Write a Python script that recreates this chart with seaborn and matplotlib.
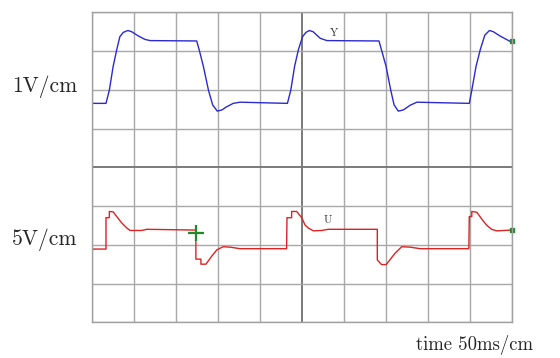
import matplotlib
matplotlib.use("Agg")
import matplotlib.pyplot as plt
import seaborn as sns
import pandas as pd

# ---- data (time in divisions, value in divisions) ----
y_t = [0, 0.34, 0.42, 0.51, 0.595, 0.67, 0.75, 0.86, 0.95, 1.11, 1.27, 1.39, 2.50,
       2.56, 2.66, 2.78, 2.88, 2.99, 3.10, 3.21, 3.37, 3.53, 4.66,
       4.74, 4.83, 4.92, 5.02, 5.10, 5.18, 5.27, 5.44, 5.60, 6.84,
       6.90, 7.01, 7.12, 7.20, 7.30, 7.42, 7.58, 7.74, 8.99,
       9.05, 9.15, 9.25, 9.36, 9.47, 9.56, 9.72, 9.96, 10.0]
y_v = [5.65, 5.65, 5.99, 6.60, 7.03, 7.37, 7.48, 7.53, 7.50, 7.39, 7.30, 7.27, 7.26,
       7.03, 6.60, 5.99, 5.61, 5.45, 5.48, 5.56, 5.65, 5.68, 5.65,
       5.99, 6.60, 7.03, 7.37, 7.48, 7.53, 7.50, 7.33, 7.27, 7.26,
       7.03, 6.60, 5.99, 5.61, 5.45, 5.48, 5.60, 5.68, 5.65,
       5.99, 6.60, 7.03, 7.41, 7.53, 7.50, 7.39, 7.25, 7.25]

u_t = [0, 0.34, 0.34, 0.42, 0.42, 0.51, 0.595, 0.71, 0.83, 0.91, 1.19, 1.31, 2.48,
       2.48, 2.60, 2.60, 2.72, 2.78, 2.86, 2.98, 3.13, 3.29, 3.53, 4.64,
       4.65, 4.76, 4.76, 4.88, 5.00, 5.08, 5.16, 5.28, 5.48, 5.63, 6.80,
       6.80, 6.90, 7.01, 7.10, 7.22, 7.38, 7.58, 7.82, 8.98,
       8.99, 9.05, 9.05, 9.17, 9.29, 9.40, 9.52, 9.64, 10.0]
u_v = [1.89, 1.89, 2.70, 2.70, 2.86, 2.85, 2.73, 2.57, 2.44, 2.37, 2.37, 2.40, 2.38,
       1.63, 1.63, 1.50, 1.50, 1.59, 1.71, 1.87, 1.95, 1.94, 1.90, 1.90,
       2.70, 2.70, 2.86, 2.86, 2.70, 2.51, 2.43, 2.36, 2.37, 2.40, 2.40,
       1.61, 1.49, 1.49, 1.61, 1.78, 1.95, 1.94, 1.90, 1.90,
       2.73, 2.73, 2.86, 2.84, 2.66, 2.51, 2.40, 2.36, 2.38]

trace_labels = ["Y", "U"]
label_pos_t = [5.78, 5.63]
label_pos_v = [7.46, 2.64]
cursor_t, cursor_v = 2.48, 2.31
scale_labels = ["1V/cm", "5V/cm"]
time_label = "time 50ms/cm"

sns.set_style("white")
plt.rcParams["font.family"] = ["cmr10", "DejaVu Serif"]

fig = plt.figure(figsize=(5.6, 3.58), dpi=100)
ax = fig.add_axes([91.7 / 560, 1 - 322.3 / 358, 420 / 560, 310 / 358])

# grid
for i in range(11):
    ax.axvline(i, color="#7a7a7a" if i == 5 else "#a8a8a8", lw=1.4 if i == 5 else 1.0, zorder=0)
for j in range(9):
    ax.axhline(j, color="#7a7a7a" if j == 4 else "#a8a8a8", lw=1.4 if j == 4 else 1.0, zorder=0)

dy = pd.DataFrame({"t": y_t, "v": y_v})
du = pd.DataFrame({"t": u_t, "v": u_v})
sns.lineplot(data=dy, x="t", y="v", ax=ax, color="#2a2ad0", lw=1.0, sort=False, estimator=None)
sns.lineplot(data=du, x="t", y="v", ax=ax, color="#dd2222", lw=1.0, sort=False, estimator=None)

# end markers
ax.plot([y_t[-1]], [y_v[-1]], marker="s", ms=2.5, color="#1f8a2a", clip_on=False)
ax.plot([u_t[-1]], [u_v[-1]], marker="s", ms=2.5, color="#1f8a2a", clip_on=False)
# cursor
ax.plot([cursor_t], [cursor_v], marker="+", ms=12, mew=1.6, color="#1f8a2a")

for lab, tt, vv in zip(trace_labels, label_pos_t, label_pos_v):
    ax.text(tt, vv, lab, fontsize=8, ha="center", va="center", color="#333333")

ax.set_xlim(0, 10)
ax.set_ylim(0, 8)
ax.set_xticks([])
ax.set_yticks([])
ax.set_xlabel("")
ax.set_ylabel("")
for s in ax.spines.values():
    s.set_color("#a0a0a0")
    s.set_linewidth(1.0)

fig.text(12 / 560, 1 - 92 / 358, scale_labels[0], fontsize=15.5, ha="left", va="baseline")
fig.text(12 / 560, 1 - 245 / 358, scale_labels[1], fontsize=15.5, ha="left", va="baseline")
fig.text(416 / 560, 1 - 350 / 358, time_label, fontsize=13.5, ha="left", va="baseline")

fig.savefig("out.png", dpi=100)
